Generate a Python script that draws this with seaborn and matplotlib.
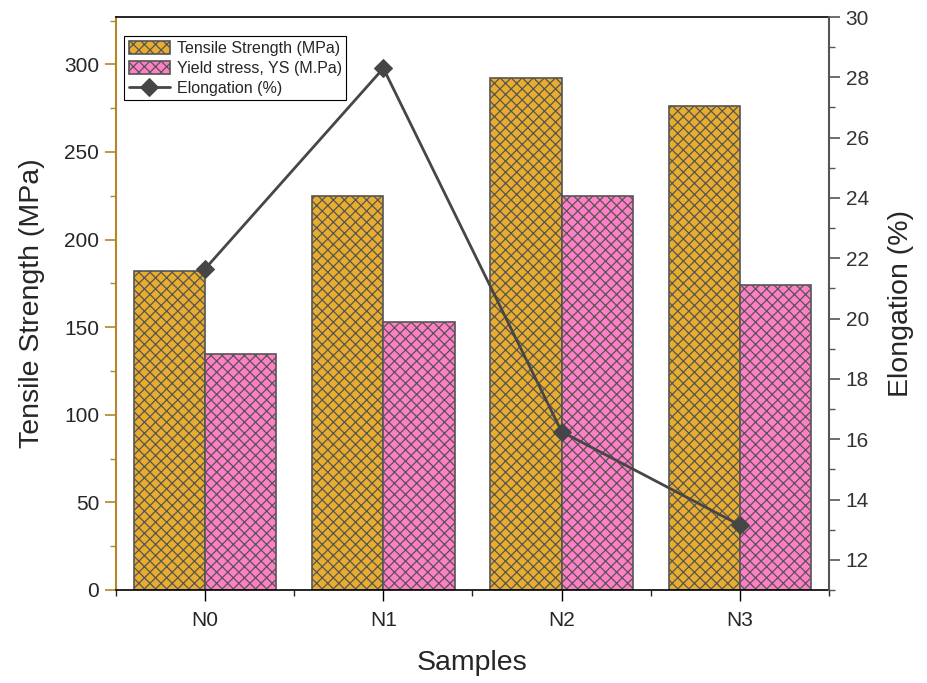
#!/usr/bin/env python3
# Tensile strength / yield stress bars with elongation line on a twin axis

import numpy as np
import pandas as pd
import matplotlib
matplotlib.use("Agg")
import matplotlib.pyplot as plt
from matplotlib.ticker import MultipleLocator, FixedLocator
import seaborn as sns

# ============================================================================
# DATA
# ============================================================================
samples = ["N0", "N1", "N2", "N3"]
tensile = [182, 225, 292, 276]
yield_stress = [134.5, 153, 225, 174]
elongation = [21.65, 28.3, 16.25, 13.15]

series_names = ["Tensile Strength (MPa)", "Yield stress, YS (M.Pa)"]
line_name = "Elongation (%)"

df = pd.DataFrame({
    "Sample": samples * 2,
    "Value": tensile + yield_stress,
    "Series": [series_names[0]] * 4 + [series_names[1]] * 4,
})

# ============================================================================
# THEME SETTINGS
# ============================================================================
sns.set_theme(style="ticks")
plt.rcParams['font.family'] = ['Liberation Sans', 'DejaVu Sans']
plt.rcParams['hatch.linewidth'] = 0.9

colors = {
    'gold': '#E8AD2E',
    'pink': '#FF7FC6',
    'edge': '#555555',
    'line': '#464646',
    'axis_gold': '#B5852A',
}

# ============================================================================
# CREATE PLOT
# ============================================================================
fig = plt.figure(figsize=(9.27, 6.83), dpi=100)
ax = fig.add_axes([0.1251, 0.1362, 0.7692, 0.8389])

sns.barplot(data=df, x="Sample", y="Value", hue="Series",
            palette=[colors['gold'], colors['pink']], width=0.8,
            edgecolor=colors['edge'], linewidth=1.2, saturation=1,
            legend=False, ax=ax)
for cont in ax.containers:
    for p in cont:
        p.set_hatch("xxx")

ax.set_xlim(-0.5, 3.5)
ax.set_ylim(0, 327)
ax.yaxis.set_major_locator(MultipleLocator(50))
ax.yaxis.set_minor_locator(MultipleLocator(25))
ax.xaxis.set_minor_locator(FixedLocator([-0.5, 0.5, 1.5, 2.5, 3.5]))
ax.tick_params(axis='x', which='major', direction='out', length=8, width=1,
               labelsize=15, pad=7, color='black')
ax.tick_params(axis='x', which='minor', direction='out', length=4, width=1)
ax.tick_params(axis='y', which='major', direction='out', length=8, width=1.2,
               labelsize=15, color=colors['axis_gold'], pad=4)
ax.tick_params(axis='y', which='minor', direction='out', length=4, width=1,
               color=colors['axis_gold'])
ax.set_xlabel("Samples", fontsize=20.5)
ax.set_ylabel("Tensile Strength (MPa)", fontsize=20.5)
ax.xaxis.set_label_coords(0.5, -0.105)
ax.yaxis.set_label_coords(-0.0996, 0.5)
ax.spines['left'].set_color(colors['axis_gold'])
ax.spines['left'].set_linewidth(1.5)
ax.spines['bottom'].set_color('black')
ax.spines['top'].set_color('black')
ax.spines['right'].set_visible(False)
for s in ('bottom', 'top'):
    ax.spines[s].set_linewidth(1.2)

ax2 = ax.twinx()
sns.lineplot(x=np.arange(len(samples)), y=elongation, color=colors['line'],
             marker='D', markersize=9, linewidth=2, markeredgecolor=colors['line'],
             ax=ax2)
ax2.set_ylim(11, 30)
ax2.yaxis.set_major_locator(MultipleLocator(2))
ax2.yaxis.set_minor_locator(MultipleLocator(1))
ax2.tick_params(axis='y', which='major', direction='out', length=8, width=1.2,
                labelsize=15, color='#555555', labelcolor='#333333', pad=4)
ax2.tick_params(axis='y', which='minor', direction='out', length=4, width=1,
                color='#555555')
ax2.set_ylabel("Elongation (%)", fontsize=20.5)
ax2.yaxis.set_label_coords(1.0828, 0.5)
for s in ('left', 'top', 'bottom'):
    ax2.spines[s].set_visible(False)
ax2.spines['right'].set_color('#555555')
ax2.spines['right'].set_linewidth(1.5)

handles = [ax.containers[0], ax.containers[1], ax2.lines[0]]
leg = ax.legend(handles, series_names + [line_name], loc='upper left',
                bbox_to_anchor=(0.011, 0.967), fontsize=11.5, frameon=True,
                fancybox=False, edgecolor='black', framealpha=1,
                borderpad=0.3, labelspacing=0.3, handlelength=2.6,
                handleheight=0.9, handletextpad=0.4, borderaxespad=0)
leg.get_frame().set_linewidth(0.8)

# ============================================================================
# SAVE OUTPUT
# ============================================================================
plt.savefig("out.png", dpi=100)
plt.close()
